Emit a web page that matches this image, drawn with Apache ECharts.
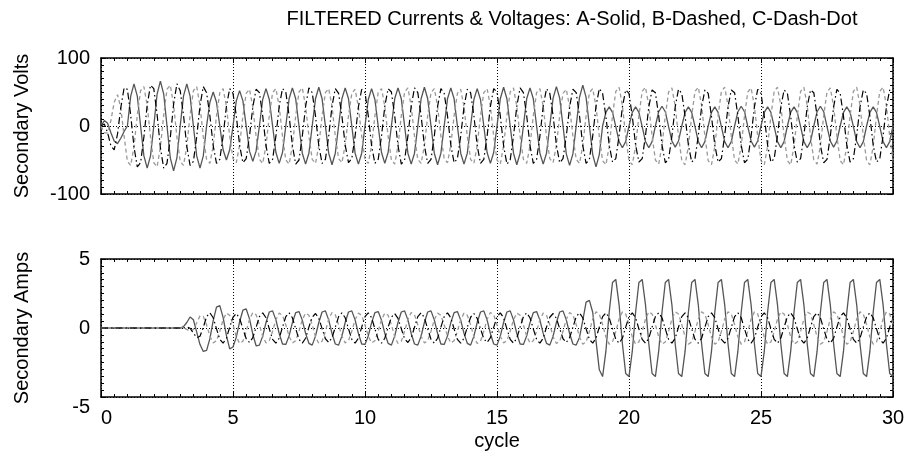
<!DOCTYPE html>
<html>
<head>
<meta charset="utf-8">
<script src="https://cdn.jsdelivr.net/npm/echarts@6/dist/echarts.min.js"></script>
<style>
  html, body { margin: 0; padding: 0; background: #fff; }
  #chart { width: 909px; height: 457px; }
</style>
</head>
<body>
<div id="chart"></div>
<script>
// samples per cycle of the recorded waveforms
var SPC = 8;

// secondary volts, one line per cycle
var voltsA = [
  0, 8, 4, -10, -22, -26, -18, -8,
  0, 44, 62, 44, 0, -44, -62, -44,
  0, 47, 66, 47, 0, -47, -66, -47,
  0, 44, 62, 44, 0, -44, -62, -44,
  0, 35, 50, 35, 0, -35, -50, -35,
  0, 37, 52, 37, 0, -37, -52, -37,
  0, 39, 55, 39, 0, -39, -55, -39,
  0, 40, 56, 40, 0, -40, -56, -40,
  0, 40, 57, 40, 0, -40, -57, -40,
  0, 40, 56, 40, 0, -40, -56, -40,
  0, 39, 55, 39, 0, -39, -55, -39,
  0, 40, 56, 40, 0, -40, -56, -40,
  0, 40, 57, 40, 0, -40, -57, -40,
  0, 40, 56, 40, 0, -40, -56, -40,
  0, 39, 55, 39, 0, -39, -55, -39,
  0, 40, 57, 40, 0, -40, -57, -40,
  0, 40, 56, 40, 0, -40, -56, -40,
  0, 41, 58, 41, 0, -41, -58, -41,
  0, 42, 60, 42, 0, -42, -60, -42,
  0, 20, 28, 20, -1, -23, -32, -23,
  0, 20, 28, 20, -1, -23, -32, -23,
  0, 21, 29, 21, -1, -22, -31, -22,
  0, 20, 28, 20, -1, -23, -32, -23,
  0, 20, 28, 20, -1, -23, -32, -23,
  0, 21, 29, 21, -1, -22, -31, -22,
  0, 20, 28, 20, -1, -23, -32, -23,
  0, 20, 28, 20, -1, -23, -32, -23,
  0, 21, 29, 21, -1, -22, -31, -22,
  0, 20, 28, 20, -1, -23, -32, -23,
  0, 20, 28, 20, -1, -23, -32, -23,
  0
];
var voltsB = [
  0, -10, -10, 8, 35, 46, 27, -15,
  -52, -58, -30, 16, 52, 58, 30, -16,
  -54, -60, -31, 16, 54, 60, 31, -16,
  -52, -58, -30, 16, 52, 58, 30, -16,
  -49, -55, -29, 15, 49, 55, 29, -15,
  -48, -54, -28, 15, 48, 54, 28, -15,
  -49, -55, -29, 15, 49, 55, 29, -15,
  -50, -56, -29, 15, 50, 56, 29, -15,
  -49, -55, -29, 15, 49, 55, 29, -15,
  -48, -54, -28, 15, 48, 54, 28, -15,
  -49, -55, -29, 15, 49, 55, 29, -15,
  -50, -56, -29, 15, 50, 56, 29, -15,
  -49, -55, -29, 15, 49, 55, 29, -15,
  -48, -54, -28, 15, 48, 54, 28, -15,
  -49, -55, -29, 15, 49, 55, 29, -15,
  -50, -56, -29, 15, 50, 56, 29, -15,
  -49, -55, -29, 15, 49, 55, 29, -15,
  -48, -54, -28, 15, 48, 54, 28, -15,
  -49, -55, -29, 15, 49, 55, 29, -15,
  -51, -57, -30, 15, 51, 57, 30, -15,
  -51, -57, -30, 15, 51, 57, 30, -15,
  -50, -56, -29, 15, 50, 56, 29, -15,
  -51, -57, -30, 15, 51, 57, 30, -15,
  -51, -57, -30, 15, 51, 57, 30, -15,
  -50, -56, -29, 15, 50, 56, 29, -15,
  -51, -57, -30, 15, 51, 57, 30, -15,
  -51, -57, -30, 15, 51, 57, 30, -15,
  -50, -56, -29, 15, 50, 56, 29, -15,
  -51, -57, -30, 15, 51, 57, 30, -15,
  -51, -57, -30, 15, 51, 57, 30, -15,
  -51
];
var voltsC = [
  0, 3, -10, -29, -35, -12, 27, 56,
  54, 16, -31, -60, -54, -16, 31, 60,
  55, 17, -32, -62, -55, -17, 32, 62,
  52, 16, -30, -58, -52, -16, 30, 58,
  49, 15, -29, -55, -49, -15, 29, 55,
  48, 15, -28, -54, -48, -15, 28, 54,
  49, 15, -29, -55, -49, -15, 29, 55,
  50, 15, -29, -56, -50, -15, 29, 56,
  49, 15, -29, -55, -49, -15, 29, 55,
  48, 15, -28, -54, -48, -15, 28, 54,
  49, 15, -29, -55, -49, -15, 29, 55,
  50, 15, -29, -56, -50, -15, 29, 56,
  49, 15, -29, -55, -49, -15, 29, 55,
  48, 15, -28, -54, -48, -15, 28, 54,
  49, 15, -29, -55, -49, -15, 29, 55,
  50, 15, -29, -56, -50, -15, 29, 56,
  49, 15, -29, -55, -49, -15, 29, 55,
  48, 15, -28, -54, -48, -15, 28, 54,
  49, 15, -29, -55, -49, -15, 29, 55,
  48, 14, -28, -53, -48, -14, 28, 53,
  48, 14, -28, -53, -48, -14, 28, 53,
  49, 15, -28, -54, -49, -15, 28, 54,
  48, 14, -28, -53, -48, -14, 28, 53,
  48, 14, -28, -53, -48, -14, 28, 53,
  49, 15, -28, -54, -49, -15, 28, 54,
  48, 14, -28, -53, -48, -14, 28, 53,
  48, 14, -28, -53, -48, -14, 28, 53,
  49, 15, -28, -54, -49, -15, 28, 54,
  48, 14, -28, -53, -48, -14, 28, 53,
  48, 14, -28, -53, -48, -14, 28, 53,
  48
];

// secondary amps, one line per cycle
var ampsA = [
  0, 0, 0, 0, 0, 0, 0, 0,
  0, 0, 0, 0, 0, 0, 0, 0,
  0, 0, 0, 0, 0, 0, 0, 0,
  0, 0.1, 0.4, 0.8, 0.6, -0.3, -1.2, -1.7,
  -1.62, -0.77, 0.53, 1.51, 1.62, 0.77, -0.53, -1.51,
  -1.38, -0.66, 0.45, 1.29, 1.38, 0.66, -0.45, -1.29,
  -1.24, -0.59, 0.40, 1.16, 1.24, 0.59, -0.40, -1.16,
  -1.19, -0.57, 0.39, 1.11, 1.19, 0.57, -0.39, -1.11,
  -1.24, -0.59, 0.40, 1.16, 1.24, 0.59, -0.40, -1.16,
  -1.24, -0.59, 0.40, 1.16, 1.24, 0.59, -0.40, -1.16,
  -1.19, -0.57, 0.39, 1.11, 1.19, 0.57, -0.39, -1.11,
  -1.24, -0.59, 0.40, 1.16, 1.24, 0.59, -0.40, -1.16,
  -1.24, -0.59, 0.40, 1.16, 1.24, 0.59, -0.40, -1.16,
  -1.19, -0.57, 0.39, 1.11, 1.19, 0.57, -0.39, -1.11,
  -1.24, -0.59, 0.40, 1.16, 1.24, 0.59, -0.40, -1.16,
  -1.24, -0.59, 0.40, 1.16, 1.24, 0.59, -0.40, -1.16,
  -1.19, -0.57, 0.39, 1.11, 1.19, 0.57, -0.39, -1.11,
  -1.24, -0.59, 0.40, 1.16, 1.24, 0.59, -0.40, -1.16,
  -1.24, -0.68, 0.56, 1.87, 2.00, 1.14, -0.93, -3.03,
  -3.52, -1.68, 1.14, 3.30, 3.52, 1.68, -1.14, -3.30,
  -3.52, -1.68, 1.14, 3.30, 3.52, 1.68, -1.14, -3.30,
  -3.52, -1.68, 1.14, 3.30, 3.52, 1.68, -1.14, -3.30,
  -3.52, -1.68, 1.14, 3.30, 3.52, 1.68, -1.14, -3.30,
  -3.52, -1.68, 1.14, 3.30, 3.52, 1.68, -1.14, -3.30,
  -3.52, -1.68, 1.14, 3.30, 3.52, 1.68, -1.14, -3.30,
  -3.52, -1.68, 1.14, 3.30, 3.52, 1.68, -1.14, -3.30,
  -3.52, -1.68, 1.14, 3.30, 3.52, 1.68, -1.14, -3.30,
  -3.52, -1.68, 1.14, 3.30, 3.52, 1.68, -1.14, -3.30,
  -3.52, -1.68, 1.14, 3.30, 3.52, 1.68, -1.14, -3.30,
  -3.52, -1.68, 1.14, 3.30, 3.52, 1.68, -1.14, -3.30,
  -3.52
];
var ampsB = [
  0, 0, 0, 0, 0, 0, 0, 0,
  0, 0, 0, 0, 0, 0, 0, 0,
  0, 0, 0, 0, 0, 0, 0, 0,
  0, 0, -0.1, -0.25, -0.1, 0.38, 0.88, 0.84,
  0.23, -0.60, -1.08, -0.92, -0.23, 0.60, 1.08, 0.92,
  0.24, -0.63, -1.12, -0.96, -0.24, 0.63, 1.12, 0.96,
  0.23, -0.60, -1.08, -0.92, -0.23, 0.60, 1.08, 0.92,
  0.23, -0.60, -1.08, -0.92, -0.23, 0.60, 1.08, 0.92,
  0.24, -0.63, -1.12, -0.96, -0.24, 0.63, 1.12, 0.96,
  0.23, -0.60, -1.08, -0.92, -0.23, 0.60, 1.08, 0.92,
  0.23, -0.60, -1.08, -0.92, -0.23, 0.60, 1.08, 0.92,
  0.24, -0.63, -1.12, -0.96, -0.24, 0.63, 1.12, 0.96,
  0.23, -0.60, -1.08, -0.92, -0.23, 0.60, 1.08, 0.92,
  0.23, -0.60, -1.08, -0.92, -0.23, 0.60, 1.08, 0.92,
  0.24, -0.63, -1.12, -0.96, -0.24, 0.63, 1.12, 0.96,
  0.23, -0.60, -1.08, -0.92, -0.23, 0.60, 1.08, 0.92,
  0.23, -0.60, -1.08, -0.92, -0.23, 0.60, 1.08, 0.92,
  0.24, -0.63, -1.12, -0.96, -0.24, 0.63, 1.12, 0.96,
  0.25, -0.65, -1.17, -1.01, -0.25, 0.65, 1.17, 1.01,
  0.25, -0.65, -1.17, -1.01, -0.25, 0.65, 1.17, 1.01,
  0.25, -0.65, -1.17, -1.01, -0.25, 0.65, 1.17, 1.01,
  0.25, -0.65, -1.17, -1.01, -0.25, 0.65, 1.17, 1.01,
  0.25, -0.65, -1.17, -1.01, -0.25, 0.65, 1.17, 1.01,
  0.25, -0.65, -1.17, -1.01, -0.25, 0.65, 1.17, 1.01,
  0.25, -0.65, -1.17, -1.01, -0.25, 0.65, 1.17, 1.01,
  0.25, -0.65, -1.17, -1.01, -0.25, 0.65, 1.17, 1.01,
  0.25, -0.65, -1.17, -1.01, -0.25, 0.65, 1.17, 1.01,
  0.25, -0.65, -1.17, -1.01, -0.25, 0.65, 1.17, 1.01,
  0.25, -0.65, -1.17, -1.01, -0.25, 0.65, 1.17, 1.01,
  0.25, -0.65, -1.17, -1.01, -0.25, 0.65, 1.17, 1.01,
  0.25
];
var ampsC = [
  0, 0, 0, 0, 0, 0, 0, 0,
  0, 0, 0, 0, 0, 0, 0, 0,
  0, 0, 0, 0, 0, 0, 0, 0,
  0, 0, 0.07, -0.02, -0.37, -0.70, -0.60, 0.05,
  0.82, 1.10, 0.74, -0.06, -0.82, -1.10, -0.74, 0.06,
  0.78, 1.05, 0.70, -0.05, -0.78, -1.05, -0.70, 0.05,
  0.82, 1.10, 0.74, -0.06, -0.82, -1.10, -0.74, 0.06,
  0.82, 1.10, 0.74, -0.06, -0.82, -1.10, -0.74, 0.06,
  0.78, 1.05, 0.70, -0.05, -0.78, -1.05, -0.70, 0.05,
  0.82, 1.10, 0.74, -0.06, -0.82, -1.10, -0.74, 0.06,
  0.82, 1.10, 0.74, -0.06, -0.82, -1.10, -0.74, 0.06,
  0.78, 1.05, 0.70, -0.05, -0.78, -1.05, -0.70, 0.05,
  0.82, 1.10, 0.74, -0.06, -0.82, -1.10, -0.74, 0.06,
  0.82, 1.10, 0.74, -0.06, -0.82, -1.10, -0.74, 0.06,
  0.78, 1.05, 0.70, -0.05, -0.78, -1.05, -0.70, 0.05,
  0.82, 1.10, 0.74, -0.06, -0.82, -1.10, -0.74, 0.06,
  0.82, 1.10, 0.74, -0.06, -0.82, -1.10, -0.74, 0.06,
  0.78, 1.05, 0.70, -0.05, -0.78, -1.05, -0.70, 0.05,
  0.82, 1.10, 0.74, -0.06, -0.82, -1.10, -0.74, 0.06,
  0.82, 1.10, 0.74, -0.06, -0.82, -1.10, -0.74, 0.06,
  0.82, 1.10, 0.74, -0.06, -0.82, -1.10, -0.74, 0.06,
  0.82, 1.10, 0.74, -0.06, -0.82, -1.10, -0.74, 0.06,
  0.82, 1.10, 0.74, -0.06, -0.82, -1.10, -0.74, 0.06,
  0.82, 1.10, 0.74, -0.06, -0.82, -1.10, -0.74, 0.06,
  0.82, 1.10, 0.74, -0.06, -0.82, -1.10, -0.74, 0.06,
  0.82, 1.10, 0.74, -0.06, -0.82, -1.10, -0.74, 0.06,
  0.82, 1.10, 0.74, -0.06, -0.82, -1.10, -0.74, 0.06,
  0.82, 1.10, 0.74, -0.06, -0.82, -1.10, -0.74, 0.06,
  0.82, 1.10, 0.74, -0.06, -0.82, -1.10, -0.74, 0.06,
  0.82, 1.10, 0.74, -0.06, -0.82, -1.10, -0.74, 0.06,
  0.82
];

var titleText = 'FILTERED Currents & Voltages: A-Solid, B-Dashed, C-Dash-Dot';
var xTicks = { min: 0, max: 30, step: 5 };
var voltTicks = { min: -100, max: 100, step: 100 };
var ampTicks = { min: -5, max: 5, step: 5 };

var FONT = "'Liberation Sans', Arial, sans-serif";
var FS = 20;
var INK = '#000';

var toPoints = function(arr){
    return arr.map(function(v, i){ return [i / SPC, v]; });
};

var frameParts = function(){
    return {
        axisLine: { onZero: false, lineStyle: { color: INK, width: 1.5 } },
        axisTick: { inside: true, length: 5, lineStyle: { color: INK } },
        minorTick: { show: true, splitNumber: 10, length: 3, lineStyle: { color: INK } }
    };
};

var xAxisPair = function(gi, labels){
    var base = Object.assign({
        type: 'value', gridIndex: gi, min: xTicks.min, max: xTicks.max, interval: xTicks.step
    }, frameParts());
    var bottom = Object.assign({}, base, {
        position: 'bottom',
        splitLine: { show: true, lineStyle: { color: INK, type: [1, 2], width: 1 } },
        axisLabel: { show: labels, color: INK, fontSize: FS, fontFamily: FONT, margin: 11,
            alignMinLabel: 'left' }
    });
    if (labels) {
        bottom.name = 'cycle';
        bottom.nameLocation = 'middle';
        bottom.nameGap = 34;
        bottom.nameTextStyle = { color: INK, fontSize: FS, fontFamily: FONT };
    }
    var top = Object.assign({}, base, {
        position: 'top', splitLine: { show: false }, axisLabel: { show: false }
    });
    return [bottom, top];
};

var yAxisPair = function(gi, t, name, minAlign){
    var base = Object.assign({
        type: 'value', gridIndex: gi, min: t.min, max: t.max, interval: t.step
    }, frameParts());
    var left = Object.assign({}, base, {
        position: 'left', name: name, nameLocation: 'middle', nameGap: 69,
        nameTextStyle: { color: INK, fontSize: FS, fontFamily: FONT },
        splitLine: { show: true, lineStyle: { color: INK, type: [1, 2], width: 1 } },
        axisLabel: { color: INK, fontSize: FS, fontFamily: FONT, margin: 11,
            verticalAlignMinLabel: minAlign }
    });
    var right = Object.assign({}, base, {
        position: 'right', splitLine: { show: false }, axisLabel: { show: false }
    });
    return [left, right];
};

var lineSeries = function(name, arr, xi, yi, style){
    return {
        name: name, type: 'line', xAxisIndex: xi, yAxisIndex: yi,
        data: toPoints(arr), showSymbol: false, animation: false,
        lineStyle: style
    };
};

var styleA = { color: '#555', width: 1.3, type: 'solid' };
var styleB = { color: '#999', width: 1.3, type: [4, 3] };
var styleC = { color: '#000', width: 1.2, type: [7, 3, 1.5, 3] };

var chart = echarts.init(document.getElementById('chart'));
chart.setOption({
    backgroundColor: '#fff',
    animation: false,
    title: {
        text: titleText, left: 567, top: 4, textAlign: 'center',
        textStyle: { color: INK, fontSize: FS, fontWeight: 'normal', fontFamily: FONT }
    },
    grid: [
        { left: 101, right: 16, top: 58, height: 136 },
        { left: 101, right: 16, top: 259, height: 138 }
    ],
    xAxis: xAxisPair(0, false).concat(xAxisPair(1, true)),
    yAxis: yAxisPair(0, voltTicks, 'Secondary Volts', 'middle')
        .concat(yAxisPair(1, ampTicks, 'Secondary Amps', 'top')),
    series: [
        lineSeries('VA', voltsA, 0, 0, styleA),
        lineSeries('VB', voltsB, 0, 0, styleB),
        lineSeries('VC', voltsC, 0, 0, styleC),
        lineSeries('IA', ampsA, 2, 2, styleA),
        lineSeries('IB', ampsB, 2, 2, styleB),
        lineSeries('IC', ampsC, 2, 2, styleC)
    ]
});
</script>
</body>
</html>
